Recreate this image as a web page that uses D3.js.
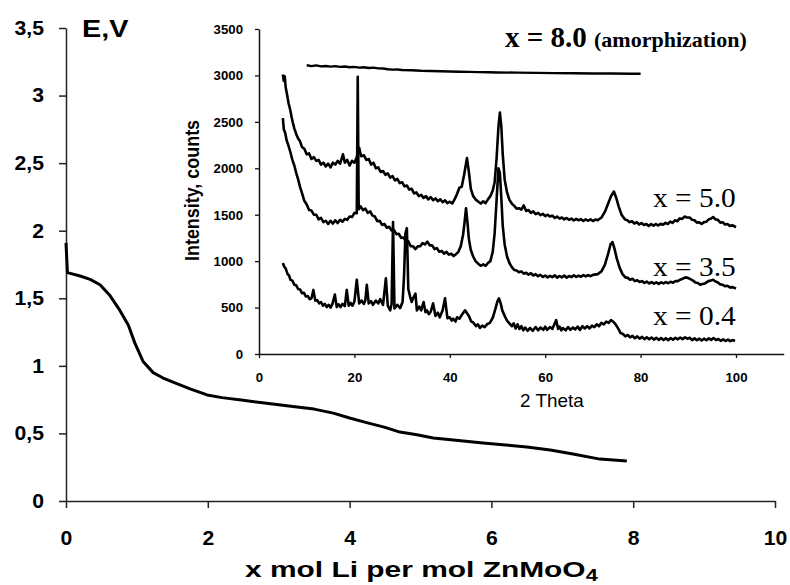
<!DOCTYPE html>
<html>
<head>
<meta charset="utf-8">
<script src="https://cdn.jsdelivr.net/npm/d3@7"></script>
<style>
  html, body { margin: 0; padding: 0; background: #fff; }
  svg { display: block; }
</style>
</head>
<body>
<svg id="chart" width="790" height="585"></svg>
<script>
// ---- Discharge curve: E (V) vs x (mol Li per mol ZnMoO4) ----
const lithiumX = [0, 0.02, 0.2, 0.34, 0.48, 0.62, 0.76, 0.88, 0.97, 1.09, 1.23, 1.37, 1.51, 1.75,
  1.99, 2.2, 2.5, 2.8, 3.2, 3.5, 3.77, 4.0, 4.24, 4.5, 4.71, 4.95, 5.18, 5.5, 5.88, 6.2, 6.5,
  6.83, 7.15, 7.53, 7.91];
const potentialE = [1.91, 1.69, 1.665, 1.64, 1.60, 1.52, 1.41, 1.30, 1.17, 1.03, 0.95, 0.91, 0.88, 0.83,
  0.785, 0.765, 0.745, 0.725, 0.70, 0.68, 0.65, 0.614, 0.58, 0.545, 0.51, 0.49, 0.466, 0.45, 0.43, 0.415, 0.40,
  0.377, 0.348, 0.31, 0.296];
const mainXTicks = [0, 2, 4, 6, 8, 10];
const mainYTicks = [0, 0.5, 1, 1.5, 2, 2.5, 3, 3.5];

// ---- XRD patterns: [2 theta (deg), intensity (counts)] ----
const xrdAmorph = [[10,3110],[11,3100],[12,3108],[13,3098],[14,3102],[15,3095],[16,3100],[17,3092],
  [18,3096],[19,3088],[20,3092],[21,3084],[22,3088],[23,3080],[24,3084],[25,3076],[26,3074],[27,3066],
  [28,3062],[29,3064],[30,3058],[32,3055],[34,3050],[36,3048],[38,3045],[40,3042],[42,3040],[44,3038],
  [46,3036],[48,3034],[50,3032],[54,3030],[58,3027],[62,3025],[66,3023],[70,3021],[74,3020],[78,3018],[80,3018]];

const xrd50 = [[5.0,3010],[5.2,2940],[5.4,2990],[5.6,2870],[5.9,2790],[6.2,2700],[6.5,2640],[6.8,2560],
  [7.1,2490],[7.4,2430],[7.8,2370],[8.2,2320],[8.6,2290],[9.0,2230],[9.5,2210],[10,2150],[10.5,2160],
  [11,2100],[11.5,2120],[12,2080],[12.5,2090],[13,2040],[13.5,2060],[14,2020],[14.5,2050],[15,2010],
  [15.5,2060],[16,2040],[16.5,2080],[17,2050],[17.6,2150],[18,2060],[18.5,2090],[19,2030],[19.5,2080],
  [20,2060],[20.5,2120],[21,2220],[21.4,2130],[22,2140],[22.5,2090],[23,2100],[23.5,2040],[24,2060],
  [24.5,2000],[25,2010],[25.5,1960],[26,1970],[26.5,1930],[27,1945],[27.5,1900],[28,1915],[28.5,1870],
  [29,1885],[29.5,1840],[30,1850],[30.5,1805],[31,1815],[31.5,1770],[32,1780],[32.5,1730],[33,1740],
  [33.5,1700],[34,1715],[34.5,1680],[35,1700],[35.5,1665],[36,1690],[36.5,1655],[37,1675],[37.5,1645],
  [38,1665],[38.5,1635],[39,1655],[39.5,1625],[40,1640],[40.5,1620],[41,1665],[41.5,1720],[42,1790],
  [42.5,1800],[43,1930],[43.6,2110],[44,1960],[44.4,1780],[44.9,1700],[45.5,1660],[46,1640],[46.5,1620],
  [47,1645],[47.5,1625],[48,1665],[48.5,1700],[49,1760],[49.4,1850],[49.8,2100],[50.2,2450],[50.5,2600],
  [50.8,2450],[51.1,2150],[51.5,1880],[52,1740],[52.5,1660],[53,1620],[53.5,1595],[54,1565],[54.5,1570],
  [55,1555],[55.5,1600],[56,1540],[56.5,1550],[57,1520],[57.5,1535],[58,1505],[58.5,1520],[59,1495],
  [59.5,1510],[60,1485],[60.5,1500],[61,1480],[61.5,1490],[62,1465],[62.5,1480],[63,1458],[63.5,1470],
  [64,1450],[64.5,1465],[65,1445],[65.5,1458],[66,1438],[66.5,1455],[67,1440],[67.5,1452],[68,1432],
  [68.5,1450],[69,1435],[69.5,1450],[70,1432],[70.5,1448],[71,1440],[71.8,1470],[72.5,1530],[73.2,1620],
  [73.8,1700],[74.4,1750],[74.9,1680],[75.4,1590],[76,1500],[76.7,1450],[77.2,1440],[77.7,1420],
  [78.2,1430],[78.7,1405],[79.2,1420],[79.7,1395],[80.2,1410],[80.7,1390],[81.2,1400],[81.7,1380],
  [82.2,1398],[82.7,1382],[83.2,1398],[83.7,1384],[84.2,1402],[84.7,1392],[85.2,1412],[85.7,1400],
  [86.2,1425],[86.7,1412],[87.2,1440],[87.7,1430],[88.2,1460],[88.7,1455],[89.2,1480],[89.7,1470],
  [90.3,1470],[90.8,1445],[91.3,1440],[91.8,1415],[92.3,1418],[92.8,1400],[93.3,1420],[93.8,1425],
  [94.3,1450],[94.8,1460],[95.2,1475],[95.7,1450],[96.2,1445],[96.7,1415],[97.2,1418],[97.7,1395],
  [98.2,1400],[98.7,1380],[99.3,1385],[100,1365]];

const xrd35 = [[5.0,2540],[5.2,2420],[5.5,2380],[5.8,2300],[6.2,2240],[6.6,2170],[7.0,2090],[7.4,2030],
  [7.8,1950],[8.2,1880],[8.6,1800],[9.0,1735],[9.5,1650],[10,1610],[10.5,1550],[11,1545],[11.5,1500],
  [12,1500],[12.5,1450],[13,1465],[13.5,1420],[14,1435],[14.5,1400],[15,1435],[15.5,1405],[16,1440],
  [16.5,1410],[17,1445],[17.5,1425],[18,1455],[18.5,1445],[19,1480],[19.5,1475],[20,1520],[20.5,1515],
  [20.7,2985],[20.9,1560],[21.3,1590],[21.8,1550],[22.3,1565],[22.8,1520],[23.3,1535],[23.8,1490],
  [24.3,1480],[24.8,1430],[25.3,1435],[25.8,1390],[26.3,1400],[26.8,1360],[27.3,1370],[27.8,1330],
  [28.3,1335],[28.8,1290],[29.3,1295],[29.8,1250],[30.3,1255],[30.8,1210],[31.3,1215],[31.8,1160],
  [32.3,1160],[32.8,1130],[33.3,1160],[33.8,1160],[34.3,1195],[34.8,1180],[35.3,1210],[35.8,1170],
  [36.3,1170],[36.8,1130],[37.3,1140],[37.8,1100],[38.3,1110],[38.8,1080],[39.3,1100],[39.8,1070],
  [40.3,1080],[40.8,1055],[41.3,1075],[41.8,1100],[42.3,1160],[42.8,1290],[43.1,1420],[43.4,1570],
  [43.7,1420],[44.0,1240],[44.4,1120],[44.9,1050],[45.4,1000],[46,970],[46.5,950],[47,965],[47.5,950],
  [48,980],[48.5,1000],[49,1100],[49.4,1300],[49.8,1650],[50.2,2000],[50.5,1950],[50.8,1680],[51.1,1380],
  [51.5,1180],[52,1050],[52.5,980],[53,935],[53.5,905],[54,900],[54.5,880],[55,890],[55.5,865],[56,875],
  [56.5,855],[57,870],[57.5,845],[58,860],[58.5,838],[59,852],[59.5,830],[60,845],[60.5,825],[61,842],
  [61.5,828],[62,848],[62.5,822],[63,840],[63.5,825],[64,845],[64.5,822],[65,840],[65.5,828],[66,848],
  [66.5,830],[67,845],[67.5,832],[68,850],[68.5,835],[69,850],[69.5,838],[70,852],[71,860],[71.8,890],
  [72.5,960],[73.2,1080],[73.7,1180],[74.1,1205],[74.5,1140],[75,1030],[75.6,930],[76.2,860],[76.8,825],
  [77.3,820],[77.8,800],[78.3,810],[78.8,785],[79.3,795],[79.8,775],[80.3,785],[80.8,765],[81.3,780],
  [81.8,760],[82.3,775],[82.8,758],[83.3,772],[83.8,755],[84.3,772],[84.8,760],[85.3,775],[85.8,762],
  [86.3,778],[86.8,768],[87.3,785],[87.8,785],[88.3,800],[88.8,810],[89.4,825],[89.9,820],[90.5,805],
  [91,790],[91.5,770],[92,765],[92.5,745],[93,755],[93.5,760],[94.2,785],[94.7,790],[95.2,800],[95.7,780],
  [96.2,770],[96.7,750],[97.2,745],[97.7,730],[98.2,735],[98.7,718],[99.3,720],[100,705]];

const xrd04 = [[5.0,980],[5.3,940],[5.6,920],[6.0,860],[6.3,845],[6.6,800],[7.0,790],[7.4,745],[7.8,740],
  [8.2,700],[8.6,695],[9.0,655],[9.4,660],[9.8,620],[10.2,625],[10.6,590],[11,600],[11.4,690],[11.8,575],
  [12.2,580],[12.6,545],[13,560],[13.4,520],[13.8,540],[14.2,505],[14.6,530],[15,500],[15.4,540],[15.9,640],
  [16.3,505],[16.7,535],[17.1,505],[17.5,540],[18,515],[18.4,690],[18.8,520],[19.2,550],[19.6,520],
  [20,565],[20.5,800],[21.0,545],[21.5,575],[22.0,540],[22.3,580],[22.6,745],[23.0,545],[23.5,570],
  [23.9,530],[24.5,575],[25.0,545],[25.4,590],[26.0,530],[26.6,815],[27.0,520],[27.5,470],[27.8,540],
  [28.1,1420],[28.4,490],[29.0,530],[29.6,495],[30.1,560],[30.4,830],[30.7,1300],[31.0,1355],[31.3,700],
  [31.7,615],[32.0,560],[32.3,600],[32.8,650],[33.1,470],[33.6,510],[34.0,470],[34.5,560],[34.9,450],
  [35.2,470],[35.6,430],[36.0,455],[36.5,545],[37.0,410],[37.5,445],[37.9,395],[38.5,470],[39,600],
  [39.5,385],[40.0,395],[40.4,360],[40.7,380],[41.2,350],[41.5,395],[42.0,380],[42.5,420],[43.2,470],
  [43.6,440],[44.0,410],[44.5,350],[44.9,340],[45.5,300],[45.9,320],[46.3,280],[46.8,305],[47.3,290],
  [47.8,320],[48.4,335],[49.0,390],[49.5,475],[50.0,570],[50.3,600],[50.7,540],[51.0,470],[51.6,400],
  [52.0,360],[52.5,330],[53.0,300],[53.4,330],[53.8,275],[54.2,320],[54.6,270],[55,300],[55.4,255],
  [55.8,285],[56.3,250],[56.8,280],[57.4,250],[58,290],[58.5,255],[59,285],[59.6,260],[60.0,295],
  [60.4,260],[61.0,290],[61.5,270],[62.3,365],[62.7,270],[63.0,295],[63.4,255],[63.7,280],[64.3,255],
  [64.8,290],[65.3,260],[65.8,285],[66.3,265],[66.8,295],[67.3,260],[67.8,300],[68.3,275],[68.8,300],
  [69.3,275],[69.8,305],[70.3,290],[70.8,320],[71.3,300],[71.8,335],[72.3,320],[72.8,350],[73.3,335],
  [73.8,365],[74.2,350],[74.6,330],[75,300],[75.4,265],[75.8,225],[76.3,215],[76.8,190],[77.3,205],
  [77.8,180],[78.3,195],[78.8,170],[79.3,190],[79.8,165],[80.3,185],[80.8,160],[81.3,180],[81.8,158],
  [82.3,178],[82.8,155],[83.3,175],[83.8,152],[84.3,172],[84.8,150],[85.3,170],[85.8,148],[86.3,172],
  [86.8,155],[87.3,175],[87.8,158],[88.3,178],[88.8,160],[89.3,180],[89.8,165],[90.3,175],[90.8,150],
  [91.3,168],[91.8,148],[92.3,165],[92.8,145],[93.3,165],[93.8,148],[94.3,168],[94.8,152],[95.3,172],
  [95.8,150],[96.3,162],[96.8,142],[97.3,158],[97.8,140],[98.3,155],[98.8,138],[99.3,150],[99.8,140]];

const insetXTicks = [0, 20, 40, 60, 80, 100];
const insetYTicks = [0, 500, 1000, 1500, 2000, 2500, 3000, 3500];
const patternLabels = ["x = 5.0", "x = 3.5", "x = 0.4"];

const svg = d3.select("#chart");
const SANS = "'Liberation Sans', Arial, sans-serif";
const SERIF = "'Liberation Serif', 'Times New Roman', serif";

// Horizontally stretch a text element around its own anchor point
function stretch(sel, sx, sy = 1) {
  sel.each(function () {
    const t = d3.select(this);
    const x = +t.attr("x") || 0;
    const y = +t.attr("y") || 0;
    t.attr("x", 0).attr("y", 0)
      .attr("transform", `translate(${x},${y}) scale(${sx},${sy})`);
  });
}

// ================= main chart =================
const x = d3.scaleLinear().domain([0, 10]).range([66, 775]);
const y = d3.scaleLinear().domain([0, 3.5]).range([501, 28]);
const commaFmt = d => String(d).replace(".", ",");

const gx = svg.append("g").attr("transform", `translate(0,${y(0)})`)
  .call(d3.axisBottom(x).tickValues(mainXTicks).tickSize(7).tickSizeOuter(0).tickPadding(23).tickFormat(d3.format("d")));
const gy = svg.append("g").attr("transform", `translate(${x(0)},0)`)
  .call(d3.axisLeft(y).tickValues(mainYTicks).tickSize(7).tickSizeOuter(0).tickPadding(15).tickFormat(commaFmt));

[gx, gy].forEach(g => {
  g.select(".domain").attr("stroke", "#222").attr("stroke-width", 1.5);
  g.selectAll(".tick line").attr("stroke", "#222").attr("stroke-width", 1.5);
  g.selectAll(".tick text")
    .attr("fill", "#000").style("font-family", SANS).style("font-weight", "bold").style("font-size", "20px")
    .call(stretch, 1.06);
});

const voltLine = d3.line().x((d, i) => x(lithiumX[i])).y(d => y(d));
svg.append("path").datum(potentialE)
  .attr("d", voltLine).attr("fill", "none").attr("stroke", "#000")
  .attr("stroke-width", 3).attr("stroke-linejoin", "round");

svg.append("text").attr("x", 82).attr("y", 37).text("E,V")
  .style("font-family", SANS).style("font-weight", "bold").style("font-size", "24px")
  .call(stretch, 1.2);

const xTitle = svg.append("text").attr("x", 245).attr("y", 577)
  .style("font-family", SANS).style("font-weight", "bold").style("font-size", "22px");
xTitle.append("tspan").text("x mol Li per mol ZnMoO");
xTitle.append("tspan").attr("dy", 4).style("font-size", "16px").text("4");
xTitle.call(stretch, 1.36);

// ================= inset: XRD patterns =================
const ix = d3.scaleLinear().domain([0, 110]).range([259, 783.7]);
const iy = d3.scaleLinear().domain([0, 3500]).range([354, 29]);

const igx = svg.append("g").attr("transform", `translate(0,${iy(0)})`)
  .call(d3.axisBottom(ix).tickValues(insetXTicks).tickSize(4).tickSizeOuter(0).tickPadding(14).tickFormat(d3.format("d")));
const igy = svg.append("g").attr("transform", `translate(${ix(0)},0)`)
  .call(d3.axisLeft(iy).tickValues(insetYTicks).tickSize(4).tickSizeOuter(0).tickPadding(12).tickFormat(d3.format("d")));

[igx, igy].forEach(g => {
  g.select(".domain").attr("stroke", "#111").attr("stroke-width", 1.5);
  g.selectAll(".tick line").attr("stroke", "#111").attr("stroke-width", 1.3);
  g.selectAll(".tick text")
    .attr("fill", "#000").style("font-family", SANS).style("font-weight", "bold").style("font-size", "13.5px")
    .call(stretch, 0.98);
});

const xrdLine = d3.line().x(d => ix(d[0])).y(d => iy(d[1]));
[[xrd04, 2.6], [xrd35, 2.6], [xrd50, 2.6], [xrdAmorph, 2.4]].forEach(([data, w]) => {
  svg.append("path").datum(data)
    .attr("d", xrdLine).attr("fill", "none").attr("stroke", "#000")
    .attr("stroke-width", w).attr("stroke-linejoin", "round");
});

svg.append("text").attr("x", 520).attr("y", 407).text("2 Theta")
  .style("font-family", SANS).style("font-size", "18px").style("font-weight", "normal")
  .call(stretch, 1.05);

svg.append("text")
  .attr("transform", "translate(199,261) rotate(-90) scale(0.92,1)")
  .text("Intensity, counts")
  .style("font-family", SANS).style("font-size", "19.5px").style("font-weight", "bold");

// Pattern labels
const amorph = svg.append("text").attr("x", 505).attr("y", 47)
  .style("font-family", SERIF).style("font-weight", "bold");
amorph.append("tspan").style("font-size", "29px").text("x = 8.0 ");
amorph.append("tspan").style("font-size", "22px").text("(amorphization)");

const labelY = [207, 276, 325];
svg.selectAll("text.pattern").data(patternLabels).join("text")
  .attr("class", "pattern")
  .attr("x", 653).attr("y", (d, i) => labelY[i])
  .text(d => d)
  .style("font-family", SERIF).style("font-size", "28px")
  .call(stretch, 1.05);
</script>
</body>
</html>
